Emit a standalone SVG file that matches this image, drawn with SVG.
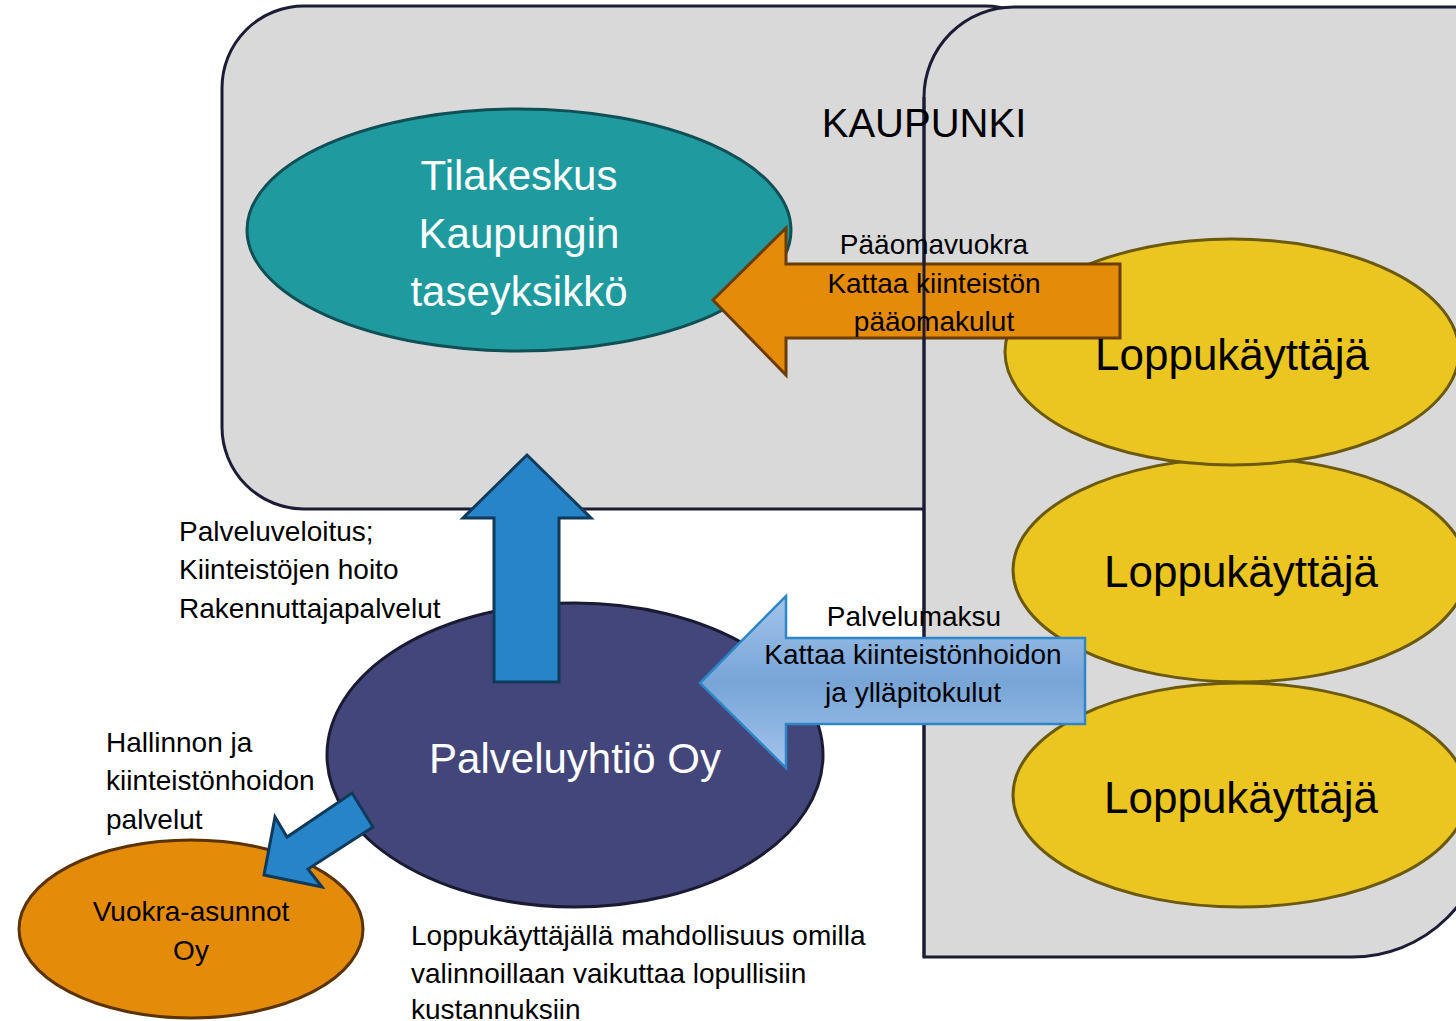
<svg xmlns="http://www.w3.org/2000/svg" width="1456" height="1021" viewBox="0 0 1456 1021">
  <defs>
    <linearGradient id="lightBlue" x1="0" y1="0" x2="0" y2="1">
      <stop offset="0" stop-color="#a3c4ec"/>
      <stop offset="0.5" stop-color="#77a5d6"/>
      <stop offset="1" stop-color="#a3c4ec"/>
    </linearGradient>
    <style>
      .panel { fill: #d9d9d9; stroke: #1c1c36; stroke-width: 3; }
      .outline { fill: none; stroke: #1c1c36; stroke-width: 3; }
      .user { fill: #ebc520; stroke: #6b5a0c; stroke-width: 3; }
      .lbl { font-family: "Liberation Sans", Arial, sans-serif; fill: #000; }
      .big { font-size: 42px; }
      .user-lbl { font-size: 44px; }
      .mid { font-size: 28px; }
      .white { fill: #ffffff; }
      .c { text-anchor: middle; }
      .blueArrow { fill: #2784c8; stroke: #0f3a5a; stroke-width: 3; stroke-linejoin: miter; }
    </style>
  </defs>

  <!-- background panels -->
  <g id="panel-city">
    <rect class="panel" x="222" y="6" width="845" height="503" rx="82" ry="82"/>
  </g>
  <g id="panel-users">
    <path class="panel" d="M924,957 L924,97 A90,90 0 0 1 1014,7 L1487,7 L1487,822 A135,135 0 0 1 1352,957 Z"/>
  </g>

  <!-- end users (upper ones overlap the lower ones) -->
  <g id="user-3">
    <ellipse class="user" cx="1240" cy="795" rx="227" ry="112"/>
  </g>
  <g id="user-2">
    <ellipse class="user" cx="1240" cy="570" rx="227" ry="112"/>
  </g>
  <g id="user-1">
    <ellipse class="user" cx="1232" cy="352" rx="227" ry="113"/>
  </g>

  <g id="tilakeskus">
    <ellipse cx="519" cy="230" rx="272" ry="121" fill="#1f9ba0" stroke="#0f4f55" stroke-width="3"/>
  </g>

  <g id="connectors">
    <!-- rent flow to Tilakeskus -->
    <path d="M713,300 L786,228 L786,264 L1120,264 L1120,338 L786,338 L786,375 Z" fill="#e48b0a" stroke="#6b3d00" stroke-width="3"/>
  </g>

  <!-- left edge of the users panel shows through the rent arrow -->
  <line x1="924" y1="97" x2="924" y2="957" class="outline"/>

  <g id="palveluyhtio">
    <ellipse cx="575" cy="755" rx="248" ry="152" fill="#43467a" stroke="#1a1a33" stroke-width="3"/>
  </g>

  <g id="vuokra-asunnot">
    <ellipse cx="191" cy="929" rx="172" ry="89" fill="#e48b0a" stroke="#5a3300" stroke-width="3"/>
  </g>

  <g id="connectors-2">
    <!-- service billing up to Tilakeskus -->
    <path class="blueArrow" d="M527,455 L591,518 L559,518 L559,682 L494,682 L494,518 L463,518 Z"/>
    <!-- service fee from end users -->
    <path d="M700,683 L786,596 L786,638 L1085,638 L1085,724 L786,724 L786,768 Z" fill="url(#lightBlue)" stroke="#2e86c8" stroke-width="2.5"/>
    <!-- services to Vuokra-asunnot -->
    <path class="blueArrow" d="M264,875 L275,817 L287,837 L352,793 L373,827 L308,869 L322,887 Z"/>
  </g>

  <!-- labels -->
  <text class="lbl c" x="924" y="137" font-size="40">KAUPUNKI</text>

  <text class="lbl big white c" x="519" y="190">Tilakeskus</text>
  <text class="lbl big white c" x="519" y="248">Kaupungin</text>
  <text class="lbl big white c" x="519" y="306">taseyksikkö</text>

  <text class="lbl user-lbl c" x="1232" y="370">Loppukäyttäjä</text>
  <text class="lbl user-lbl c" x="1241" y="587">Loppukäyttäjä</text>
  <text class="lbl user-lbl c" x="1241" y="813">Loppukäyttäjä</text>

  <text class="lbl big white c" x="575" y="773">Palveluyhtiö Oy</text>

  <text class="lbl mid c" x="191" y="921">Vuokra-asunnot</text>
  <text class="lbl mid c" x="191" y="960">Oy</text>

  <text class="lbl mid c" x="934" y="254">Pääomavuokra</text>
  <text class="lbl mid c" x="934" y="293">Kattaa kiinteistön</text>
  <text class="lbl mid c" x="934" y="331">pääomakulut</text>

  <text class="lbl mid c" x="914" y="626">Palvelumaksu</text>
  <text class="lbl mid c" x="913" y="664">Kattaa kiinteistönhoidon</text>
  <text class="lbl mid c" x="913" y="702">ja ylläpitokulut</text>

  <text class="lbl mid" x="179" y="541">Palveluveloitus;</text>
  <text class="lbl mid" x="179" y="579">Kiinteistöjen hoito</text>
  <text class="lbl mid" x="179" y="618">Rakennuttajapalvelut</text>

  <text class="lbl mid" x="106" y="752">Hallinnon ja</text>
  <text class="lbl mid" x="106" y="790">kiinteistönhoidon</text>
  <text class="lbl mid" x="106" y="829">palvelut</text>

  <text class="lbl mid" x="411" y="945">Loppukäyttäjällä mahdollisuus omilla</text>
  <text class="lbl mid" x="411" y="983">valinnoillaan vaikuttaa lopullisiin</text>
  <text class="lbl mid" x="411" y="1019">kustannuksiin</text>
</svg>
